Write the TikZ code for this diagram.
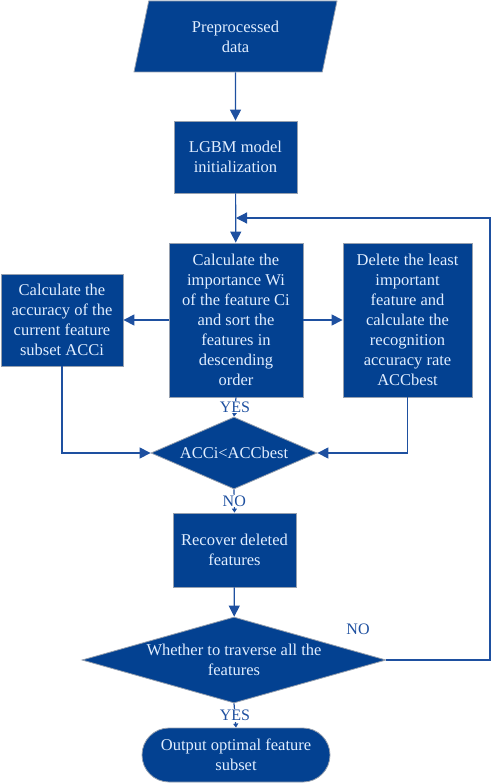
\documentclass[tikz,border=0pt]{standalone}
\usepackage{fontspec}
\setmainfont{Liberation Serif}
\usetikzlibrary{shapes.geometric,arrows.meta}
\definecolor{boxblue}{RGB}{3,65,145}
\definecolor{edgegray}{RGB}{150,160,175}
\definecolor{lineblue}{RGB}{30,80,160}
\definecolor{textblue}{RGB}{225,238,255}
\begin{document}
\begin{tikzpicture}[x=1pt,y=-1pt,
    every node/.style={font=\fontsize{16.5}{20}\selectfont, text=textblue, align=center, inner sep=0pt},
    procbox/.style={draw=edgegray, line width=0.8pt, fill=boxblue, rectangle},
    iobox/.style={procbox, trapezium, trapezium left angle=65, trapezium right angle=115, trapezium stretches body},
    testbox/.style={procbox, diamond},
    endbox/.style={procbox, rounded corners=27pt},
    flow/.style={draw=lineblue, line width=1.2pt, -{Triangle[length=11pt,width=11pt]}},
    shortflow/.style={draw=lineblue, line width=1.2pt, -{Triangle[length=4pt,width=5pt]}},
    answer/.style={font=\fontsize{16}{18}\selectfont, text=lineblue, fill=white, inner sep=1pt}]
  \useasboundingbox (0,0) rectangle (491,783);
  \node [iobox, minimum width=203pt, minimum height=71pt] (data) at (235.5,36.5) {Preprocessed\\data};
  \node [procbox, minimum width=123pt, minimum height=72pt] (init) at (235.5,157) {LGBM model\\initialization};
  \node [procbox, minimum width=134pt, minimum height=154pt] (rank) at (236,320) {Calculate the\\importance Wi\\of the feature Ci\\and sort the\\features in\\descending\\order};
  \node [procbox, minimum width=122pt, minimum height=92pt] (subacc) at (62,320) {Calculate the\\accuracy of the\\current feature\\subset ACCi};
  \node [procbox, minimum width=129pt, minimum height=154pt] (delete) at (407.5,320) {Delete the least\\important\\feature and\\calculate the\\recognition\\accuracy rate\\ACCbest};
  \node [testbox, aspect=2.3, minimum width=166pt, minimum height=72pt] (compare) at (234,453) {ACCi<ACCbest};
  \node [procbox, minimum width=123pt, minimum height=74pt] (recover) at (234.5,550) {Recover deleted\\features};
  \node [testbox, aspect=3.5, minimum width=304pt, minimum height=86pt] (traverse) at (234,660) {Whether to traverse all the\\features};
  \node [endbox, minimum width=188pt, minimum height=54pt] (output) at (236,755) {Output optimal feature\\subset};
  \coordinate (join) at (236,218);
  \draw [flow] (data) -- (init);
  \draw [flow] (init) -- (rank);
  \draw [flow] (rank) -- (subacc);
  \draw [flow] (rank) -- (delete);
  \draw [flow] (subacc.south) |- (compare.west);
  \draw [flow] (delete.south) |- (compare.east);
  \draw [shortflow] (rank.south) -- node [answer] {YES} (compare.north);
  \draw [shortflow] (compare.south) -- node [answer] {NO} (recover.north);
  \draw [flow] (recover) -- (traverse);
  \draw [shortflow] (traverse.south) -- node [answer] {YES} (output.north);
  \draw [flow] (traverse.east) -- (490,660) |- (join);
  \node [answer] (again) at (358,629) {NO};
\end{tikzpicture}
\end{document}
